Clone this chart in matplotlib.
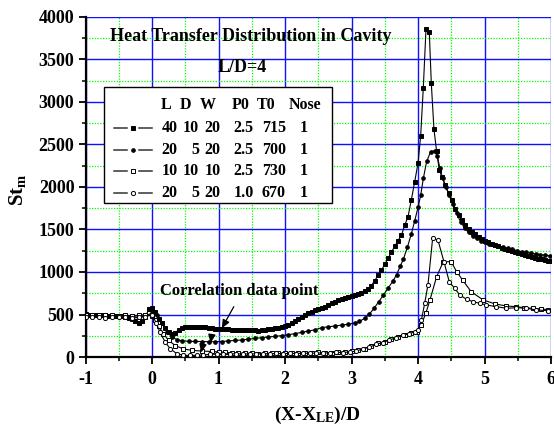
import numpy as np
import matplotlib
matplotlib.use("Agg")
import matplotlib.pyplot as plt
from matplotlib.lines import Line2D
from matplotlib.patches import Rectangle
from matplotlib.ticker import MultipleLocator

plt.rcParams['font.family'] = 'Liberation Serif'
plt.rcParams['font.weight'] = 'bold'
plt.rcParams['axes.unicode_minus'] = False
plt.rcParams['mathtext.fontset'] = 'custom'
plt.rcParams['mathtext.rm'] = 'Liberation Serif:bold'
plt.rcParams['mathtext.bf'] = 'Liberation Serif:bold'
plt.rcParams['mathtext.it'] = 'Liberation Serif:bold'

# ---- run 1: L=40 D=10 W=20 P0=2.5 T0=715 ----
x_run1 = [-1.00, -0.95, -0.90, -0.85, -0.80, -0.75, -0.70, -0.65, -0.60, -0.55,
          -0.50, -0.45, -0.40, -0.35, -0.30, -0.25, -0.20, -0.15, -0.10, -0.05,
          0.00, 0.05, 0.10, 0.15, 0.20, 0.25, 0.30, 0.35, 0.40, 0.45,
          0.50, 0.55, 0.60, 0.65, 0.70, 0.75, 0.80, 0.85, 0.90, 0.95,
          1.00, 1.05, 1.10, 1.15, 1.20, 1.25, 1.30, 1.35, 1.40, 1.45,
          1.50, 1.55, 1.60, 1.65, 1.70, 1.75, 1.80, 1.85, 1.90, 1.95,
          2.00, 2.05, 2.10, 2.15, 2.20, 2.25, 2.30, 2.35, 2.40, 2.45,
          2.50, 2.55, 2.60, 2.65, 2.70, 2.75, 2.80, 2.85, 2.90, 2.95,
          3.00, 3.05, 3.10, 3.15, 3.20, 3.25, 3.30, 3.35, 3.40, 3.45,
          3.50, 3.55, 3.60, 3.65, 3.70, 3.75, 3.80, 3.85, 3.90, 3.95,
          4.00, 4.04, 4.08, 4.12, 4.17, 4.20, 4.24, 4.28, 4.32, 4.36,
          4.41, 4.46, 4.51, 4.56, 4.61, 4.66, 4.71, 4.76, 4.81, 4.86,
          4.91, 4.96, 5.01, 5.06, 5.11, 5.16, 5.21, 5.26, 5.31, 5.36,
          5.41, 5.46, 5.51, 5.56, 5.61, 5.66, 5.71, 5.76, 5.81, 5.86,
          5.91, 5.96, 6.00]
st_run1 = [505, 500, 498, 495, 492, 490, 492, 488, 485, 482,
           480, 478, 470, 460, 445, 420, 405, 420, 470, 560,
           575, 530, 450, 400, 345, 290, 268, 285, 320, 340,
           352, 356, 358, 358, 357, 352, 348, 345, 340, 335,
           330, 330, 328, 325, 322, 320, 320, 318, 318, 316,
           315, 312, 310, 312, 318, 325, 332, 338, 345, 355,
           365, 380, 398, 418, 445, 470, 495, 515, 535, 548,
           560, 575, 592, 612, 630, 648, 665, 682, 695, 705,
           715, 728, 742, 758, 778, 805, 840, 900, 960, 1020,
           1090, 1160, 1235, 1300, 1370, 1430, 1550, 1650, 1850, 2060,
           2280, 2600, 3170, 3855, 3820, 3220, 2680, 2420, 2200, 2120,
           2025, 1925, 1850, 1740, 1670, 1610, 1555, 1510, 1475, 1445,
           1415, 1390, 1368, 1350, 1335, 1320, 1302, 1288, 1272, 1258,
           1245, 1232, 1220, 1210, 1200, 1188, 1178, 1165, 1158, 1150,
           1142, 1135, 1130]

# ---- run 2: L=20 D=5 W=20 P0=2.5 T0=700 ----
x_run2 = [-1.00, -0.90, -0.80, -0.70, -0.60, -0.50, -0.40, -0.30, -0.20, -0.10,
          0.00, 0.08, 0.15, 0.22, 0.30, 0.37, 0.45, 0.55, 0.65, 0.75,
          0.85, 0.95, 1.05, 1.15, 1.25, 1.35, 1.45, 1.55, 1.65, 1.75,
          1.85, 1.95, 2.05, 2.15, 2.25, 2.35, 2.45, 2.55, 2.65, 2.75,
          2.85, 2.95, 3.05, 3.12, 3.20, 3.27, 3.34, 3.41, 3.48, 3.55,
          3.62, 3.68, 3.73, 3.78, 3.84, 3.90, 3.95, 4.00, 4.04, 4.08,
          4.13, 4.19, 4.25, 4.29, 4.33, 4.37, 4.42, 4.47, 4.52, 4.58,
          4.64, 4.70, 4.76, 4.82, 4.88, 4.94, 5.00, 5.07, 5.14, 5.21,
          5.28, 5.35, 5.42, 5.49, 5.56, 5.63, 5.70, 5.77, 5.84, 5.91,
          5.98]
st_run2 = [495, 490, 488, 485, 482, 478, 475, 470, 468, 480,
           520, 500, 400, 300, 235, 205, 190, 185, 183, 182,
           180, 180, 182, 190, 195, 200, 210, 218, 228, 235,
           242, 252, 262, 275, 290, 305, 320, 345, 355, 365,
           375, 385, 400, 420, 455, 505, 575, 650, 730, 810,
           890, 970, 1065, 1150, 1290, 1450, 1600, 1760, 1900, 2100,
           2300, 2415, 2425, 2360, 2220, 2100, 2000, 1900, 1800, 1690,
           1590, 1520, 1465, 1425, 1395, 1370, 1350, 1330, 1315, 1300,
           1290, 1278, 1265, 1252, 1240, 1230, 1222, 1212, 1205, 1198,
           1190]

# ---- run 3: L=10 D=10 W=10 P0=2.5 T0=730 ----
x_run3 = [-1.00, -0.90, -0.80, -0.70, -0.60, -0.50, -0.40, -0.30, -0.20, -0.10,
          0.00, 0.05, 0.10, 0.17, 0.25, 0.35, 0.47, 0.60, 0.75, 0.90,
          1.00, 1.10, 1.20, 1.30, 1.40, 1.50, 1.60, 1.70, 1.80, 1.90,
          2.00, 2.10, 2.20, 2.30, 2.40, 2.50, 2.60, 2.70, 2.80, 2.90,
          3.00, 3.10, 3.20, 3.30, 3.40, 3.50, 3.60, 3.70, 3.80, 3.90,
          3.98, 4.05, 4.12, 4.18, 4.28, 4.38, 4.50, 4.58, 4.67, 4.80,
          4.98, 5.16, 5.33, 5.48, 5.60, 5.73, 5.85, 5.96]
st_run3 = [500, 495, 500, 490, 495, 488, 492, 480, 490, 500,
           480, 430, 365, 275, 195, 135, 95, 78, 70, 65,
           60, 55, 48, 45, 42, 45, 40, 45, 42, 48,
           45, 50, 45, 52, 48, 55, 50, 52, 58, 60,
           65, 85, 100, 125, 160, 180, 210, 235, 260, 285,
           300, 380, 520, 671, 945, 1121, 1121, 1004, 906, 768,
           671, 624, 600, 592, 580, 573, 565, 557]

# ---- run 4: L=20 D=5 W=20 P0=1.0 T0=670 ----
x_run4 = [-1.00, -0.90, -0.80, -0.70, -0.60, -0.50, -0.40, -0.30, -0.20, -0.10,
          0.00, 0.06, 0.12, 0.20, 0.27, 0.37, 0.47, 0.57, 0.67, 0.77,
          0.87, 0.97, 1.07, 1.17, 1.27, 1.37, 1.47, 1.57, 1.67, 1.77,
          1.87, 1.97, 2.07, 2.17, 2.27, 2.37, 2.47, 2.57, 2.67, 2.77,
          2.87, 2.97, 3.07, 3.17, 3.27, 3.37, 3.47, 3.57, 3.67, 3.77,
          3.87, 3.95, 4.00, 4.05, 4.10, 4.15, 4.22, 4.30, 4.39, 4.47,
          4.55, 4.63, 4.73, 4.83, 4.93, 5.03, 5.18, 5.33, 5.48, 5.63,
          5.78, 5.96]
st_run4 = [470, 465, 470, 462, 470, 465, 468, 458, 465, 475,
           500, 405, 290, 175, 100, 40, 20, 18, 20, 25,
           30, 35, 38, 35, 40, 32, 38, 35, 40, 36,
           42, 38, 44, 40, 46, 42, 48, 45, 50, 55,
           52, 60, 70, 95, 115, 150, 170, 200, 225, 255,
           275, 295, 320, 430, 630, 850, 1396, 1376, 1121, 886,
           808, 729, 679, 651, 631, 612, 592, 573, 580, 573,
           553, 545]

# legend table
header = ['L', 'D', 'W', 'P0', 'T0', 'Nose']
table_rows = [['40', '10', '20', '2.5', '715', '1'],
              ['20', '5', '20', '2.5', '700', '1'],
              ['10', '10', '10', '2.5', '730', '1'],
              ['20', '5', '20', '1.0', '670', '1']]

styles = [dict(marker='s', mfc='black', ms=2.6),
          dict(marker='o', mfc='black', ms=2.6),
          dict(marker='s', mfc='white', ms=3.0),
          dict(marker='o', mfc='white', ms=3.0)]
series = [(x_run1, st_run1), (x_run2, st_run2), (x_run3, st_run3), (x_run4, st_run4)]

W, H = 554, 425
fig = plt.figure(figsize=(W / 100, H / 100), dpi=100)
L, R, T, B = 85.5, 551, 17, 357
ax = fig.add_axes([L / W, 1 - B / H, (R - L) / W, (B - T) / H])


def pix(px, py):
    # pixel position -> axes fraction
    return (px - L) / (R - L), (B - py) / (B - T)


ax.set_xlim(-1, 6)
ax.set_ylim(0, 4000)
ax.xaxis.set_major_locator(MultipleLocator(1))
ax.xaxis.set_minor_locator(MultipleLocator(0.5))
ax.yaxis.set_major_locator(MultipleLocator(500))
ax.yaxis.set_minor_locator(MultipleLocator(250))
ax.grid(which='major', color='#1010ff', lw=1.0, ls='-', zorder=0)
ax.grid(which='minor', color='#00ff00', lw=0.9, ls=(0, (1, 1.2)), zorder=0)
ax.set_axisbelow(True)

for s in ['top', 'right']:
    ax.spines[s].set_visible(False)
for s in ['left', 'bottom']:
    ax.spines[s].set_linewidth(1.6)
ax.tick_params(which='major', length=5, width=1.3, direction='out', labelsize=13)
ax.tick_params(axis='x', which='major', pad=5)
ax.tick_params(axis='y', which='major', pad=3)
ax.tick_params(which='minor', length=3, width=1.1, direction='out')
for lab in ax.get_xticklabels() + ax.get_yticklabels():
    lab.set_fontweight('bold')

for (xs, ys), st in zip(series, styles):
    ax.plot(xs, ys, color='black', lw=0.8, mec='black', mew=0.7, zorder=3, **st)

# title lines
ax.text(*pix(250.5, 37), 'Heat Transfer Distribution in Cavity', transform=ax.transAxes,
        ha='center', va='center', fontsize=13, fontweight='bold')
ax.text(*pix(242, 68), 'L/D=4', transform=ax.transAxes,
        ha='center', va='center', fontsize=13, fontweight='bold')

# legend box
x0, y0 = pix(104, 203)
x1, y1 = pix(332, 87)
ax.add_patch(Rectangle((x0, y0), x1 - x0, y1 - y0, transform=ax.transAxes,
                       facecolor='white', edgecolor='black', lw=1.0, zorder=5))
head_x = [166, 185, 207.5, 240.5, 266, 305.5]
for h, hx in zip(header, head_x):
    ax.text(*pix(hx, 105), h, transform=ax.transAxes, ha='center', va='center',
            fontsize=11.5, fontweight='bold', zorder=6)
col_right = [177.5, 199, 220.5, 253.5, 286, 303.5]
row_y = [128.5, 150.3, 171.3, 192.7]
for row, ry, st in zip(table_rows, row_y, styles):
    for j, (val, cx) in enumerate(zip(row, col_right)):
        ax.text(*pix(cx, ry), val, transform=ax.transAxes,
                ha='center' if j == 5 else 'right', va='center',
                fontsize=11.5, fontweight='bold', zorder=6)
    for a, b in [(114, 127), (138.5, 152)]:
        (ax_a, ay), (ax_b, _) = pix(a, ry), pix(b, ry)
        ax.add_line(Line2D([ax_a, ax_b], [ay, ay], transform=ax.transAxes,
                           color='#333333', lw=1.1, zorder=6))
    mx, my = pix(132.8, ry)
    ax.add_line(Line2D([mx], [my], transform=ax.transAxes, ls='none', mec='black',
                       mew=0.7, zorder=7, **st))

# correlation annotation
ax.text(*pix(160, 291), 'Correlation data point', transform=ax.transAxes,
        ha='left', va='center', fontsize=12, fontweight='bold')
arrow_kw = dict(arrowstyle='-|>,head_length=0.5,head_width=0.22', color='black', lw=0.9,
                shrinkA=0, shrinkB=0)
ax.annotate('', xy=(1.05, 338), xytext=(1.23, 592), arrowprops=arrow_kw, zorder=8)
ax.annotate('', xy=(0.88, 165), xytext=(0.90, 262), arrowprops=arrow_kw, zorder=8)
ax.annotate('', xy=(0.74, 52), xytext=(0.77, 165), arrowprops=arrow_kw, zorder=8)

# axis titles
fig.text(318 / W, 1 - 415 / H, r'(X-X$_{\mathrm{LE}}$)/D', ha='center', va='center',
         fontsize=14, fontweight='bold')
fig.text(18 / W, 1 - 190 / H, r'St$_{\mathrm{m}}$', ha='center', va='center',
         rotation=90, fontsize=15, fontweight='bold')

fig.savefig('out.png', dpi=100)
